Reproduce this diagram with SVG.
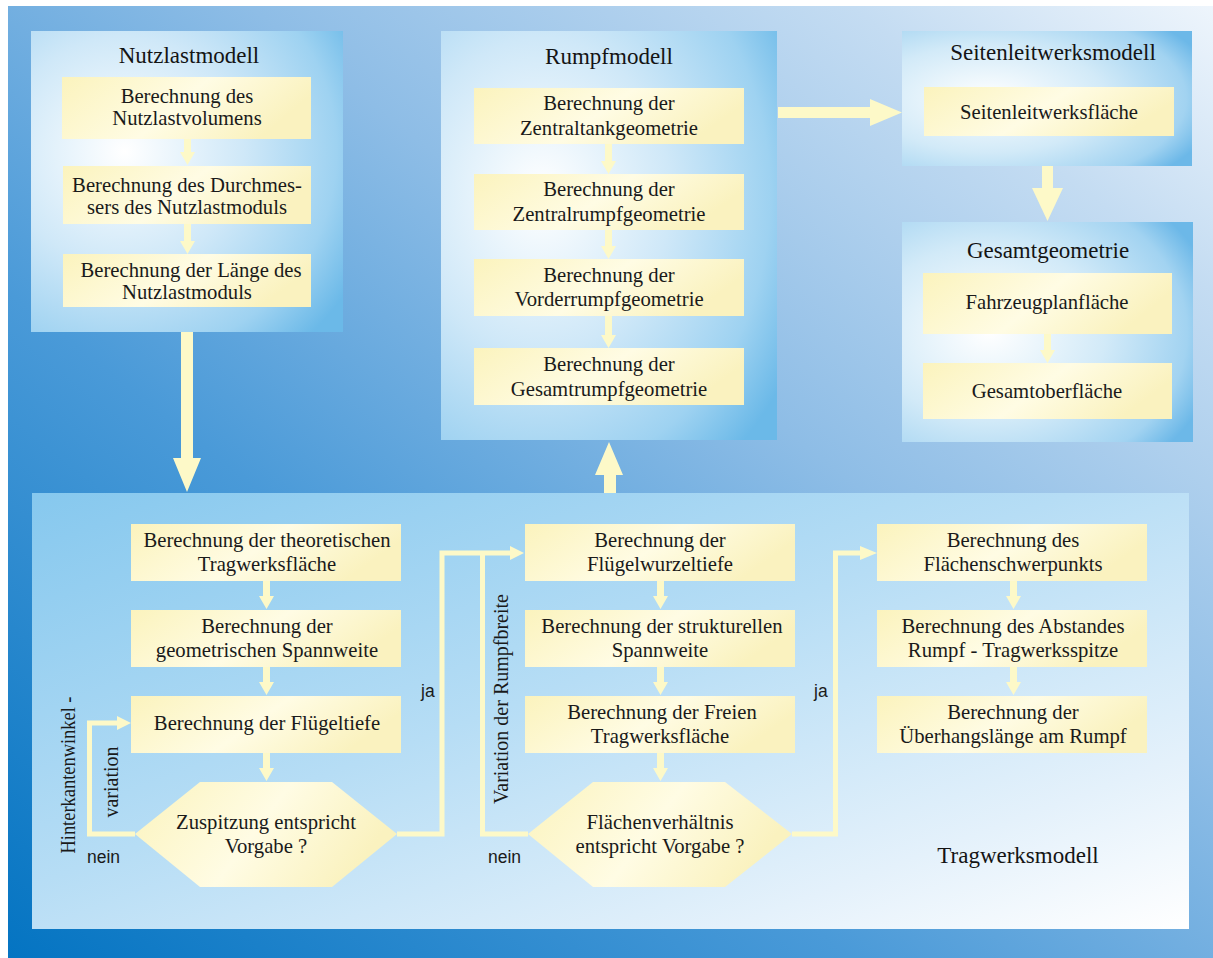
<svg xmlns="http://www.w3.org/2000/svg" width="1213" height="958" viewBox="0 0 1213 958">
  <defs>
    <linearGradient id="bg" x1="0" y1="1" x2="1" y2="0">
      <stop offset="0" stop-color="#0474c2"/>
      <stop offset="0.35" stop-color="#4a9ad8"/>
      <stop offset="0.6" stop-color="#8ebde6"/>
      <stop offset="0.85" stop-color="#c4dcf2"/>
      <stop offset="1" stop-color="#eef5fc"/>
    </linearGradient>
    <radialGradient id="panel" cx="0.3" cy="0.4" r="0.85">
      <stop offset="0" stop-color="#ffffff"/>
      <stop offset="0.45" stop-color="#cfe8f8"/>
      <stop offset="0.8" stop-color="#9ed2f1"/>
      <stop offset="1" stop-color="#6bb9e8"/>
    </radialGradient>
    <radialGradient id="panelWide" cx="0.3" cy="0.5" r="0.8">
      <stop offset="0" stop-color="#ffffff"/>
      <stop offset="0.5" stop-color="#d2eaf8"/>
      <stop offset="0.85" stop-color="#a2d3f1"/>
      <stop offset="1" stop-color="#6cb8e8"/>
    </radialGradient>
    <linearGradient id="wing" x1="0" y1="0" x2="1" y2="1">
      <stop offset="0" stop-color="#86c8ee"/>
      <stop offset="0.45" stop-color="#b6ddf5"/>
      <stop offset="0.8" stop-color="#e4f1fb"/>
      <stop offset="1" stop-color="#ffffff"/>
    </linearGradient>
    <linearGradient id="step" x1="0" y1="0" x2="1" y2="0.3">
      <stop offset="0" stop-color="#fbf3bd"/>
      <stop offset="0.55" stop-color="#fffce4"/>
      <stop offset="1" stop-color="#faf2bf"/>
    </linearGradient>
    <style>
      .panel { fill: url(#panel); }
      .step { fill: url(#step); }
      .title { font-family: "Liberation Serif", "Times New Roman", serif; font-size: 23px; fill: #141414; text-anchor: middle; }
      .txt { font-family: "Liberation Serif", "Times New Roman", serif; font-size: 20.7px; fill: #1a1a1a; text-anchor: middle; }
      .side { font-family: "Liberation Serif", "Times New Roman", serif; font-size: 20px; fill: #1a1a1a; text-anchor: middle; }
      .yn { font-family: "Liberation Sans", Arial, sans-serif; font-size: 17.5px; fill: #1a1a1a; }
      .arrow { fill: #fdf9c8; }
      .line { fill: none; stroke: #fdf9c8; stroke-width: 5; }
    </style>
  </defs>

  <!-- backdrop -->
  <rect x="8" y="6" width="1205" height="952" fill="url(#bg)"/>

  <!-- model panels -->
  <g id="nutzlastmodell">
    <rect class="panel" x="31" y="31" width="312" height="301"/>
    <text class="title" x="189" y="63">Nutzlastmodell</text>
    <g id="n-volumen">
      <rect class="step" x="62" y="77" width="249" height="62"/>
      <text class="txt" x="187" y="103">Berechnung des</text>
      <text class="txt" x="187" y="125">Nutzlastvolumens</text>
    </g>
    <g id="n-durchmesser">
      <rect class="step" x="63" y="166" width="248" height="58"/>
      <text class="txt" x="187" y="192">Berechnung des Durchmes-</text>
      <text class="txt" x="187" y="214">sers des Nutzlastmoduls</text>
    </g>
    <g id="n-laenge">
      <rect class="step" x="63" y="254" width="248" height="53"/>
      <text class="txt" x="191" y="277">Berechnung der Länge des</text>
      <text class="txt" x="187" y="299">Nutzlastmoduls</text>
    </g>
  </g>

  <g id="rumpfmodell">
    <rect class="panel" x="441" y="31" width="336" height="409"/>
    <text class="title" x="609" y="64">Rumpfmodell</text>
    <g id="r-zentraltank">
      <rect class="step" x="474" y="88" width="270" height="56"/>
      <text class="txt" x="609" y="110">Berechnung der</text>
      <text class="txt" x="609" y="135">Zentraltankgeometrie</text>
    </g>
    <g id="r-zentralrumpf">
      <rect class="step" x="474" y="174" width="270" height="56"/>
      <text class="txt" x="609" y="196">Berechnung der</text>
      <text class="txt" x="609" y="221">Zentralrumpfgeometrie</text>
    </g>
    <g id="r-vorderrumpf">
      <rect class="step" x="474" y="259" width="270" height="57"/>
      <text class="txt" x="609" y="282">Berechnung der</text>
      <text class="txt" x="609" y="306">Vorderrumpfgeometrie</text>
    </g>
    <g id="r-gesamtrumpf">
      <rect class="step" x="474" y="348" width="270" height="57"/>
      <text class="txt" x="609" y="371">Berechnung der</text>
      <text class="txt" x="609" y="396">Gesamtrumpfgeometrie</text>
    </g>
  </g>

  <g id="seitenleitwerksmodell">
    <rect x="902" y="31" width="290" height="135" fill="url(#panelWide)"/>
    <text class="title" x="1053" y="60">Seitenleitwerksmodell</text>
    <g id="s-flaeche">
      <rect class="step" x="924" y="87" width="250" height="49"/>
      <text class="txt" x="1049" y="119">Seitenleitwerksfläche</text>
    </g>
  </g>

  <g id="gesamtgeometrie">
    <rect x="902" y="222" width="291" height="220" fill="url(#panelWide)"/>
    <text class="title" x="1048" y="258">Gesamtgeometrie</text>
    <g id="g-planflaeche">
      <rect class="step" x="923" y="273" width="249" height="61"/>
      <text class="txt" x="1047" y="309">Fahrzeugplanfläche</text>
    </g>
    <g id="g-oberflaeche">
      <rect class="step" x="923" y="363" width="249" height="56"/>
      <text class="txt" x="1047" y="398">Gesamtoberfläche</text>
    </g>
  </g>

  <g id="tragwerksmodell">
    <rect x="32" y="493" width="1157" height="436" fill="url(#wing)"/>
    <text class="title" x="1018" y="863">Tragwerksmodell</text>

    <g id="t-theoretisch">
      <rect class="step" x="131" y="524" width="270" height="57"/>
      <text class="txt" x="267" y="547">Berechnung der theoretischen</text>
      <text class="txt" x="267" y="571">Tragwerksfläche</text>
    </g>
    <g id="t-geometrisch">
      <rect class="step" x="131" y="610" width="270" height="57"/>
      <text class="txt" x="267" y="633">Berechnung der</text>
      <text class="txt" x="267" y="657">geometrischen Spannweite</text>
    </g>
    <g id="t-fluegeltiefe">
      <rect class="step" x="131" y="696" width="270" height="57"/>
      <text class="txt" x="267" y="730">Berechnung der Flügeltiefe</text>
    </g>
    <g id="t-zuspitzung">
      <polygon class="step" points="200,782 332,782 397,834 332,887 200,887 135,834"/>
      <text class="txt" x="266" y="829">Zuspitzung entspricht</text>
      <text class="txt" x="266" y="853">Vorgabe ?</text>
    </g>

    <g id="t-wurzeltiefe">
      <rect class="step" x="525" y="524" width="270" height="57"/>
      <text class="txt" x="660" y="547">Berechnung der</text>
      <text class="txt" x="660" y="571">Flügelwurzeltiefe</text>
    </g>
    <g id="t-strukturell">
      <rect class="step" x="525" y="610" width="270" height="57"/>
      <text class="txt" x="662" y="633">Berechnung der strukturellen</text>
      <text class="txt" x="660" y="657">Spannweite</text>
    </g>
    <g id="t-frei">
      <rect class="step" x="525" y="696" width="270" height="57"/>
      <text class="txt" x="662" y="719">Berechnung der Freien</text>
      <text class="txt" x="660" y="743">Tragwerksfläche</text>
    </g>
    <g id="t-verhaeltnis">
      <polygon class="step" points="593,782 725,782 792,834 725,887 593,887 528,834"/>
      <text class="txt" x="660" y="829">Flächenverhältnis</text>
      <text class="txt" x="660" y="853">entspricht Vorgabe ?</text>
    </g>

    <g id="t-schwerpunkt">
      <rect class="step" x="877" y="524" width="270" height="57"/>
      <text class="txt" x="1013" y="547">Berechnung des</text>
      <text class="txt" x="1013" y="571">Flächenschwerpunkts</text>
    </g>
    <g id="t-abstand">
      <rect class="step" x="877" y="610" width="270" height="57"/>
      <text class="txt" x="1013" y="633">Berechnung des Abstandes</text>
      <text class="txt" x="1013" y="657">Rumpf - Tragwerksspitze</text>
    </g>
    <g id="t-ueberhang">
      <rect class="step" x="877" y="696" width="270" height="57"/>
      <text class="txt" x="1013" y="719">Berechnung der</text>
      <text class="txt" x="1013" y="743">Überhangslänge am Rumpf</text>
    </g>
  </g>

  <!-- connectors -->
  <g id="connectors">
    <!-- between model panels -->
    <polygon class="arrow" points="181,332 193,332 193,458 201,458 187,492 173,458 181,458"/>
    <polygon class="arrow" points="604,493 616,493 616,475 623,475 609,442 595,475 604,475"/>
    <polygon class="arrow" points="778,107 870,107 870,99 902,112.5 870,126 870,118 778,118"/>
    <polygon class="arrow" points="1042,166 1053,166 1053,188 1063,188 1047.5,221 1032,188 1042,188"/>

    <!-- step arrows inside panels -->
    <g id="step-arrows">
      <polygon class="arrow" points="184,139 191,139 191,152 195,152 187.5,165 180,152 184,152"/>
      <polygon class="arrow" points="184,224 191,224 191,241 195,241 187.5,254 180,241 184,241"/>
      <polygon class="arrow" points="605,144 612,144 612,161 616,161 608.5,174 601,161 605,161"/>
      <polygon class="arrow" points="605,230 612,230 612,246 616,246 608.5,259 601,246 605,246"/>
      <polygon class="arrow" points="605,316 612,316 612,335 616,335 608.5,348 601,335 605,335"/>
      <polygon class="arrow" points="1044,334 1051,334 1051,350 1055,350 1047.5,363 1040,350 1044,350"/>

      <polygon class="arrow" points="263,581 270,581 270,596 274,596 266.5,609 259,596 263,596"/>
      <polygon class="arrow" points="263,667 270,667 270,682 274,682 266.5,695 259,682 263,682"/>
      <polygon class="arrow" points="263,753 270,753 270,768 274,768 266.5,781 259,768 263,768"/>

      <polygon class="arrow" points="657,581 664,581 664,596 668,596 660.5,609 653,596 657,596"/>
      <polygon class="arrow" points="657,667 664,667 664,682 668,682 660.5,695 653,682 657,682"/>
      <polygon class="arrow" points="657,753 664,753 664,768 668,768 660.5,781 653,768 657,768"/>

      <polygon class="arrow" points="1010,581 1017,581 1017,596 1021,596 1013.5,609 1006,596 1010,596"/>
      <polygon class="arrow" points="1010,667 1017,667 1017,682 1021,682 1013.5,695 1006,682 1010,682"/>
    </g>

    <!-- decision branches -->
    <polyline class="line" points="135,834 89.5,834 89.5,723 119,723"/>
    <polygon class="arrow" points="117,716 131,723 117,730"/>

    <polyline class="line" points="397,834 442,834 442,553 512,553"/>
    <polygon class="arrow" points="510,546 524,553 510,560"/>

    <polyline class="line" points="528,834 482.5,834 482.5,553"/>

    <polyline class="line" points="792,834 835.5,834 835.5,553 862,553"/>
    <polygon class="arrow" points="860,546 877,553 860,560"/>

    <!-- branch labels -->
    <text class="side" transform="translate(75,775) rotate(-90)" font-size="19" textLength="157" lengthAdjust="spacingAndGlyphs">Hinterkantenwinkel -</text>
    <text class="side" transform="translate(118,782) rotate(-90)">variation</text>
    <text class="side" transform="translate(508,699) rotate(-90)">Variation der Rumpfbreite</text>
    <text class="yn" x="87" y="863">nein</text>
    <text class="yn" x="488" y="863">nein</text>
    <text class="yn" x="421" y="697">ja</text>
    <text class="yn" x="814" y="697">ja</text>
  </g>
</svg>
